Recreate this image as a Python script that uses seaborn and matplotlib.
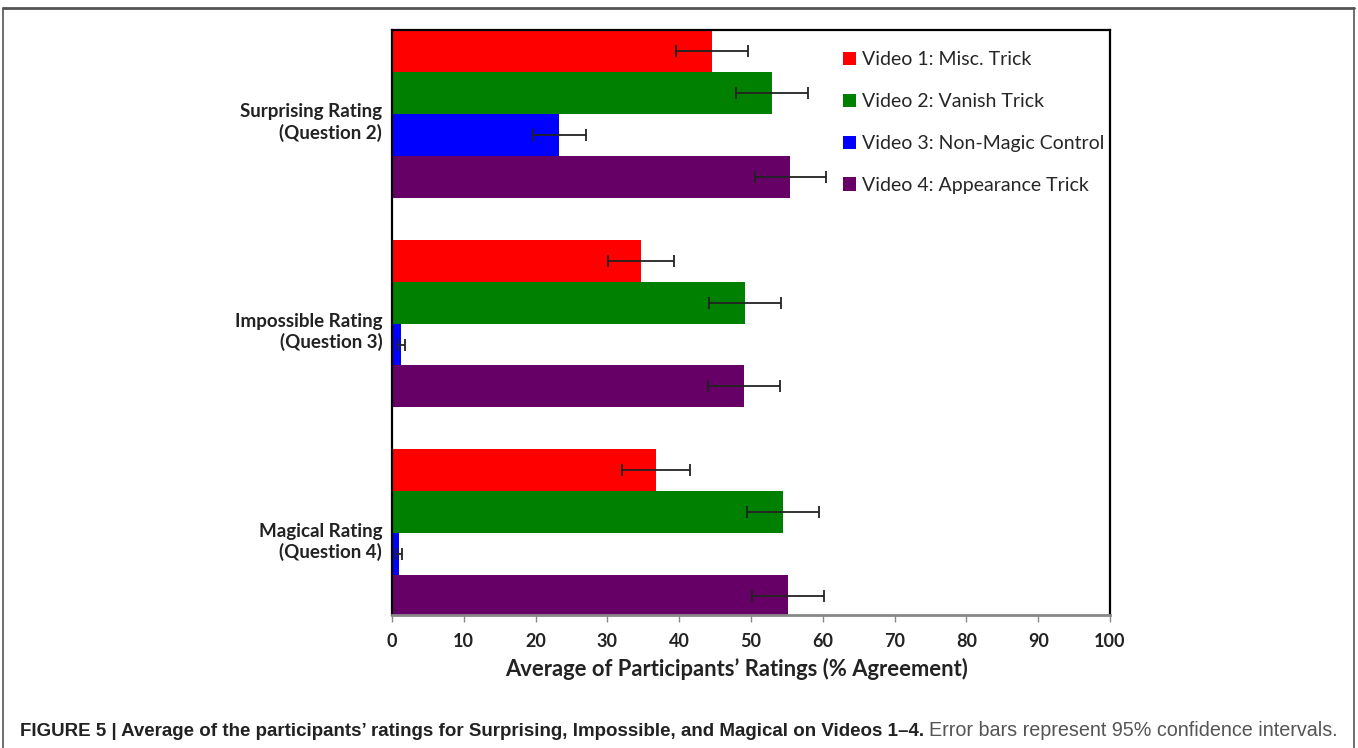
import matplotlib
matplotlib.use("Agg")
import matplotlib.pyplot as plt
import matplotlib.transforms as mtransforms
import seaborn as sns
import pandas as pd
from matplotlib.patches import Patch
from matplotlib.lines import Line2D

# Rating questions (y categories) and the four videos (hue levels)
categories = ["Surprising Rating\n(Question 2)",
              "Impossible Rating\n(Question 3)",
              "Magical Rating\n(Question 4)"]
videos = ["Video 1: Misc. Trick",
          "Video 2: Vanish Trick",
          "Video 3: Non-Magic Control",
          "Video 4: Appearance Trick"]

# Mean % agreement per video, in category order
video1_mean = [44.6, 34.7, 36.8]
video2_mean = [52.9, 49.2, 54.5]
video3_mean = [23.3, 1.3, 1.0]
video4_mean = [55.5, 49.0, 55.1]

# Half-width of the 95% confidence intervals
video1_ci = [5.0, 4.6, 4.7]
video2_ci = [5.0, 5.0, 5.0]
video3_ci = [3.7, 0.5, 0.4]
video4_ci = [4.9, 5.0, 5.0]

x_ticks = [0, 10, 20, 30, 40, 50, 60, 70, 80, 90, 100]
colors = ["#FF0000", "#008000", "#0000FF", "#660066"]

means = [video1_mean, video2_mean, video3_mean, video4_mean]
cis = [video1_ci, video2_ci, video3_ci, video4_ci]

rows = []
for v, m, c in zip(videos, means, cis):
    for cat, val, err in zip(categories, m, c):
        rows.append({"Question": cat, "Video": v, "Agreement": val, "CI": err})
df = pd.DataFrame(rows)

sns.set_theme(style="white")
plt.rcParams["font.family"] = ["Lato", "DejaVu Sans"]

fig = plt.figure(figsize=(13.58, 7.48), dpi=100)
ax = fig.add_axes([392 / 1358, 1 - 615 / 748, (1110 - 392) / 1358, (615 - 30) / 748])

sns.barplot(data=df, y="Question", x="Agreement", hue="Video",
            order=categories, hue_order=videos, palette=colors,
            orient="h", errorbar=None, width=0.8, saturation=1,
            edgecolor="none", linewidth=0, ax=ax)

# Confidence-interval whiskers on each bar
for container, v in zip(ax.containers, videos):
    sub = df[df["Video"] == v].set_index("Question").loc[categories]
    ys = [p.get_y() + p.get_height() / 2 for p in container.patches]
    ax.errorbar(sub["Agreement"].values, ys, xerr=sub["CI"].values,
                fmt="none", ecolor="#222222", elinewidth=1.3,
                capsize=4, capthick=1.3, zorder=5)

ax.set_xlim(0, 100)
ax.set_ylim(2.39, -0.4)
ax.set_xticks(x_ticks)
ax.set_xticklabels([str(t) for t in x_ticks], fontsize=13, fontweight="bold",
                   color="#222222")
ax.set_yticks(range(len(categories)))
ax.set_yticklabels(categories, fontsize=13.5, fontweight="bold",
                   ha="right", multialignment="right", color="#222222",
                   linespacing=1.2)
ax.tick_params(axis="x", direction="out", length=5, width=1,
               color="#888888", pad=8, bottom=True)
ax.tick_params(axis="y", length=0, pad=7)
# nudge the category labels slightly downward
shift = mtransforms.ScaledTranslation(0, -4 / 72, fig.dpi_scale_trans)
for lbl in ax.get_yticklabels():
    lbl.set_transform(lbl.get_transform() + shift)
ax.set_xlabel("Average of Participants\u2019 Ratings (% Agreement)",
              fontsize=15.8, fontweight="bold", labelpad=6, color="#222222")
ax.xaxis.label.set_x(0.48)
ax.set_ylabel("")

for side in ["top", "right", "left"]:
    ax.spines[side].set_color("black")
    ax.spines[side].set_linewidth(1.6)
ax.spines["bottom"].set_color("#888888")
ax.spines["bottom"].set_linewidth(2)

handles = [Patch(facecolor=c, edgecolor="none") for c in colors]
ax.legend(handles, videos, loc="upper left", bbox_to_anchor=(0.617, 0.977),
          frameon=False, fontsize=14, handlelength=0.68, handleheight=0.68,
          handletextpad=0.33, labelspacing=1.28, borderaxespad=0)

# Outer frame of the figure panel
W, H = 1358, 748
frame_color = "#555555"
fig.add_artist(Line2D([3 / W, 1354 / W], [1 - 8 / H, 1 - 8 / H],
                      transform=fig.transFigure, color=frame_color, lw=2))
fig.add_artist(Line2D([3 / W, 3 / W], [1 - 8 / H, 0],
                      transform=fig.transFigure, color=frame_color, lw=1.2))
fig.add_artist(Line2D([1354 / W, 1354 / W], [1 - 8 / H, 0],
                      transform=fig.transFigure, color=frame_color, lw=1.2))

# Caption: bold title followed by a regular sentence
cap_font = ["Liberation Sans Narrow", "Liberation Sans", "DejaVu Sans"]
t1 = fig.text(20 / W, 1 - 731 / H,
              "FIGURE 5 | Average of the participants\u2019 ratings for Surprising, "
              "Impossible, and Magical on Videos 1\u20134.",
              fontsize=13.5, fontweight="bold", family=cap_font,
              color="#222222", va="center", ha="left")
fig.canvas.draw()
bb = t1.get_window_extent(renderer=fig.canvas.get_renderer())
x_end = bb.x1 / fig.bbox.width
fig.text(x_end + 5 / W, 1 - 731 / H,
         "Error bars represent 95% confidence intervals.",
         fontsize=14.2, family=cap_font, color="#555555",
         va="center", ha="left")

fig.savefig("out.png", dpi=100)
